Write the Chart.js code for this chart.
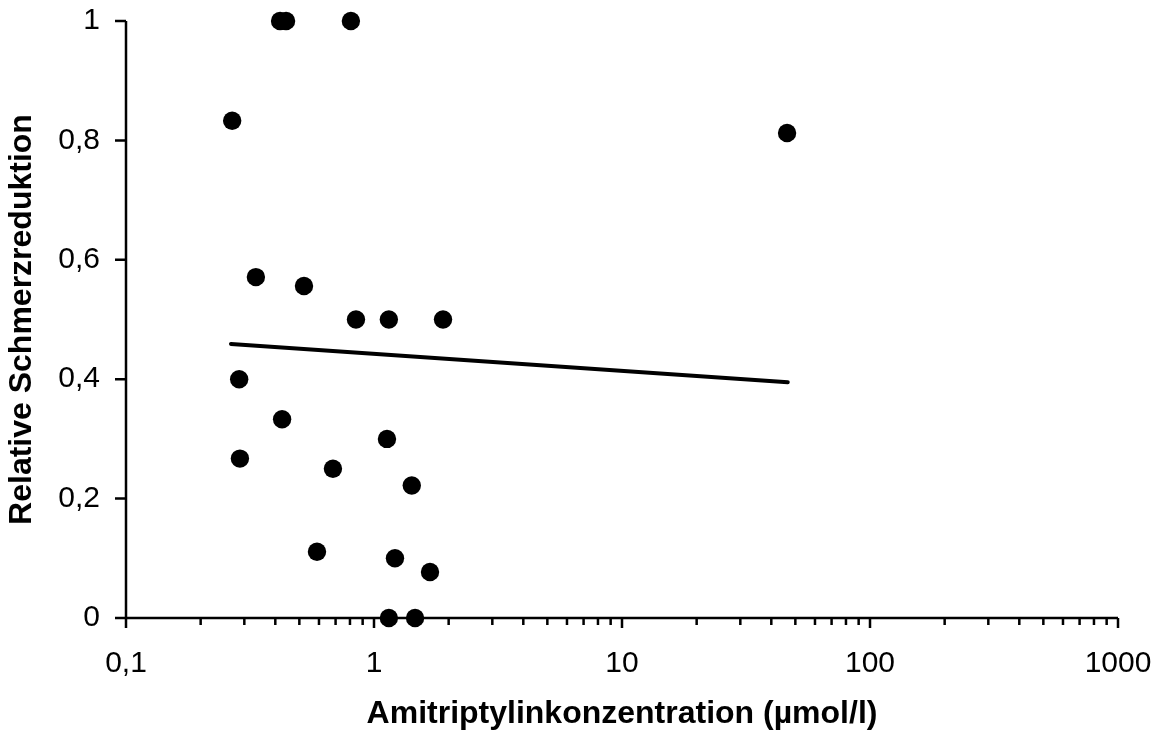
<!DOCTYPE html>
<html>
<head>
<meta charset="utf-8">
<script src="https://cdn.jsdelivr.net/npm/chart.js@4.4.0/dist/chart.umd.min.js"></script>
<style>
  html, body { margin: 0; padding: 0; background: #fff; }
  #wrap { width: 1163px; height: 737px; }
</style>
</head>
<body>
<div id="wrap"><canvas id="chart" width="1163" height="737"></canvas></div>
<script>
const konzentration = [0.418, 0.442, 0.807, 0.268, 46.3, 0.334, 0.522, 0.846, 1.148, 1.898,
  0.286, 0.426, 1.128, 0.288, 0.683, 1.42, 0.589, 1.215, 1.682, 1.148, 1.464];
const reduktion = [1, 1, 1, 0.833, 0.8125, 0.571, 0.556, 0.5, 0.5, 0.5,
  0.4, 0.333, 0.3, 0.267, 0.25, 0.222, 0.111, 0.1, 0.077, 0, 0];

// Trendlinie (logarithmisch, Endpunkte)
const trendX = [0.265, 46.6];
const trendY = [0.459, 0.395];

const xMajorTicks = [0.1, 1, 10, 100, 1000];
const yTicks = [0, 0.2, 0.4, 0.6, 0.8, 1];

const FONT = "'Liberation Sans', Arial, sans-serif";
const fmt = v => String(Math.round(v * 10) / 10).replace('.', ',');

// keine automatische Randzugabe fuer ueberstehende Beschriftungen
function noOverhang(s) {
  s.paddingTop = 0; s.paddingBottom = 0; s.paddingLeft = 0; s.paddingRight = 0;
}

// Achsen und Teilstriche selbst zeichnen (Haupt- und Nebenstriche)
const axesPlugin = {
  id: 'axes',
  beforeDatasetsDraw(chart) {
    const { ctx, chartArea: a, scales: { x, y } } = chart;
    ctx.save();
    ctx.strokeStyle = '#000';
    ctx.lineWidth = 2.5;
    ctx.lineCap = 'butt';
    ctx.beginPath();
    ctx.moveTo(a.left, a.top);
    ctx.lineTo(a.left, a.bottom);
    ctx.moveTo(a.left, a.bottom);
    ctx.lineTo(a.right, a.bottom);
    yTicks.forEach(v => {
      const py = y.getPixelForValue(v);
      ctx.moveTo(a.left - 11, py);
      ctx.lineTo(a.left, py);
    });
    xMajorTicks.forEach((d, i) => {
      const px = x.getPixelForValue(d);
      ctx.moveTo(px, a.bottom);
      ctx.lineTo(px, a.bottom + 10);
      if (i < xMajorTicks.length - 1) {
        for (let k = 2; k <= 9; k++) {
          const mx = x.getPixelForValue(d * k);
          ctx.moveTo(mx, a.bottom);
          ctx.lineTo(mx, a.bottom + 7);
        }
      }
    });
    ctx.stroke();
    ctx.restore();
  }
};

new Chart(document.getElementById('chart'), {
  type: 'scatter',
  data: {
    datasets: [
      {
        label: 'Trend',
        type: 'line',
        data: trendX.map((v, i) => ({ x: v, y: trendY[i] })),
        borderColor: '#000',
        borderWidth: 4,
        pointRadius: 0,
        borderCapStyle: 'round',
        fill: false,
        order: 2
      },
      {
        label: 'Patienten',
        data: konzentration.map((v, i) => ({ x: v, y: reduktion[i] })),
        backgroundColor: '#000',
        borderColor: '#000',
        borderWidth: 0,
        pointRadius: 9.2,
        pointHoverRadius: 9.2,
        clip: false,
        order: 1
      }
    ]
  },
  options: {
    responsive: false,
    animation: false,
    events: [],
    layout: { padding: { top: 21, right: 45, left: 0, bottom: 0 } },
    plugins: { legend: { display: false }, tooltip: { enabled: false } },
    scales: {
      x: {
        type: 'logarithmic',
        min: 0.1,
        max: 1000,
        afterBuildTicks: s => { s.ticks = xMajorTicks.map(v => ({ value: v })); },
        afterFit: s => { s.height = 119; noOverhang(s); },
        grid: { display: false, drawTicks: false },
        border: { display: false },
        ticks: {
          autoSkip: false,
          maxRotation: 0,
          padding: 28,
          color: '#000',
          font: { family: FONT, size: 30 },
          callback: v => fmt(v)
        },
        title: {
          display: true,
          text: 'Amitriptylinkonzentration (µmol/l)',
          color: '#000',
          font: { family: FONT, size: 32, weight: 'bold' },
          padding: { top: 0, bottom: 4 }
        }
      },
      y: {
        min: 0,
        max: 1,
        afterBuildTicks: s => { s.ticks = yTicks.map(v => ({ value: v })); },
        afterFit: s => { s.width = 126; noOverhang(s); },
        grid: { display: false, drawTicks: false },
        border: { display: false },
        ticks: {
          padding: 26,
          color: '#000',
          font: { family: FONT, size: 30 },
          callback: v => fmt(v)
        },
        title: {
          display: true,
          text: 'Relative Schmerzreduktion',
          color: '#000',
          font: { family: FONT, size: 32, weight: 'bold' },
          padding: { top: 3, bottom: 0 }
        }
      }
    }
  },
  plugins: [axesPlugin]
});
</script>
</body>
</html>
